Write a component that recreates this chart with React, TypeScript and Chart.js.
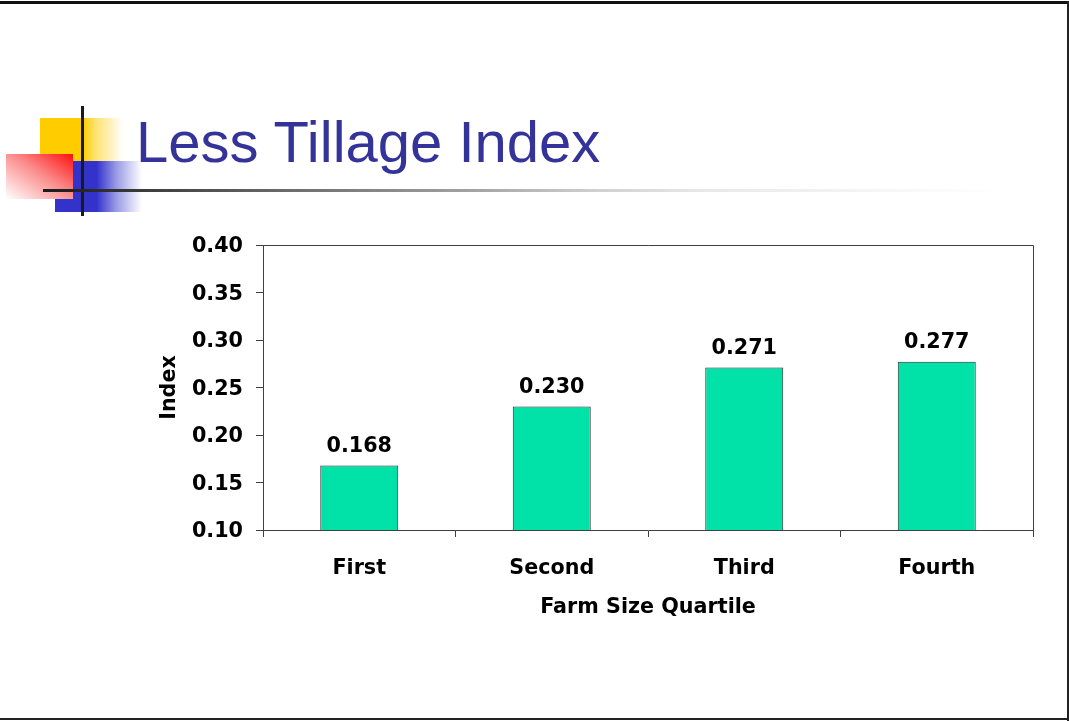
import React, { useEffect, useRef } from "react";
import { Chart, registerables } from "chart.js";

Chart.register(...registerables);

const categories = ["First", "Second", "Third", "Fourth"];
const indexValues = [0.168, 0.23, 0.271, 0.277];
const yMin = 0.1;
const yMax = 0.4;
const yStep = 0.05;
const slideTitle = "Less Tillage Index";
const xAxisTitle = "Farm Size Quartile";
const yAxisTitle = "Index";

const FONT_FAMILY = "'DejaVu Sans', 'Liberation Sans', sans-serif";
const AXIS_COLOR = "#404040";
const BAR_COLOR = "#00e2a8";

const labelFont = { family: FONT_FAMILY, size: 20.7, weight: "bold" as const };

const plotFramePlugin = {
  id: "plotFrame",
  afterDatasetsDraw(chart: any) {
    const { ctx, chartArea } = chart;
    const x = Math.round(chartArea.right) + 0.5;
    const y = Math.round(chartArea.top) + 0.5;
    ctx.save();
    ctx.strokeStyle = AXIS_COLOR;
    ctx.lineWidth = 1;
    ctx.beginPath();
    ctx.moveTo(Math.round(chartArea.left), y);
    ctx.lineTo(x, y);
    ctx.lineTo(x, Math.round(chartArea.bottom));
    ctx.stroke();
    ctx.restore();
  },
};

const valueLabelPlugin = {
  id: "valueLabels",
  afterDatasetsDraw(chart: any) {
    const { ctx } = chart;
    const meta = chart.getDatasetMeta(0);
    const data = chart.data.datasets[0].data as number[];
    ctx.save();
    ctx.font = `bold ${labelFont.size}px ${FONT_FAMILY}`;
    ctx.fillStyle = "#000";
    ctx.textAlign = "center";
    ctx.textBaseline = "middle";
    meta.data.forEach((bar: any, i: number) => {
      ctx.fillText(Number(data[i]).toFixed(3), bar.x, bar.y - 19);
    });
    ctx.restore();
  },
};

export default function App() {
  const canvasRef = useRef<HTMLCanvasElement | null>(null);

  useEffect(() => {
    if (!canvasRef.current) return;
    const chart = new Chart(canvasRef.current, {
      type: "bar",
      data: {
        labels: categories,
        datasets: [
          {
            label: yAxisTitle,
            data: indexValues,
            backgroundColor: BAR_COLOR,
            borderColor: "#2a2a2a",
            borderWidth: 1,
            borderSkipped: false,
            barPercentage: 0.405,
            categoryPercentage: 1,
          },
        ],
      },
      options: {
        responsive: false,
        animation: false,
        devicePixelRatio: 1,
        layout: { padding: { top: 245, right: 36, left: 157, bottom: 101 } },
        plugins: {
          legend: { display: false },
          tooltip: { enabled: false },
          title: { display: false },
        },
        scales: {
          x: {
            type: "category",
            offset: true,
            grid: {
              offset: true,
              drawOnChartArea: false,
              drawTicks: true,
              tickLength: 7,
              color: AXIS_COLOR,
              lineWidth: 1,
            },
            border: { display: true, color: AXIS_COLOR, width: 1 },
            ticks: { font: labelFont, color: "#000", padding: 19, maxRotation: 0, autoSkip: false },
            title: { display: true, text: xAxisTitle, font: labelFont, color: "#000", padding: 0 },
            afterFit: (s: any) => {
              s.height = 90;
            },
          },
          y: {
            type: "linear",
            min: yMin,
            max: yMax,
            grid: {
              drawOnChartArea: false,
              drawTicks: true,
              tickLength: 7,
              color: AXIS_COLOR,
              lineWidth: 1,
            },
            border: { display: true, color: AXIS_COLOR, width: 1 },
            ticks: {
              stepSize: yStep,
              font: labelFont,
              color: "#000",
              padding: 13,
              labelOffset: 2,
              callback: (v: any) => Number(v).toFixed(2),
            },
            title: { display: true, text: yAxisTitle, font: labelFont, color: "#000", padding: 0 },
            afterFit: (s: any) => {
              s.width = 106;
            },
          },
        },
      },
      plugins: [plotFramePlugin, valueLabelPlugin],
    });
    return () => chart.destroy();
  }, []);

  const abs = (style: React.CSSProperties): React.CSSProperties => ({ position: "absolute", ...style });

  return (
    <div style={abs({ left: 0, top: 0, width: 1069, height: 721, background: "#fff", overflow: "hidden" })}>
      {/* slide frame */}
      <div style={abs({ left: 0, top: 1, width: 1069, height: 3, background: "#111" })} />
      <div style={abs({ left: 1067, top: 1, width: 2, height: 720, background: "#222" })} />
      <div style={abs({ left: 0, top: 718, width: 1069, height: 2, background: "#222" })} />

      {/* title decoration */}
      <div
        style={abs({
          left: 40,
          top: 118,
          width: 83,
          height: 43,
          background: "linear-gradient(to right, #ffcc00 0%, #ffcc00 52%, rgba(255,204,0,0.6) 65%, rgba(255,204,0,0) 100%)",
        })}
      />
      <div
        style={abs({
          left: 55,
          top: 161,
          width: 87,
          height: 51,
          background: "linear-gradient(to right, #3333cc 0%, #3333cc 48%, rgba(51,51,204,0.5) 70%, rgba(51,51,204,0) 100%)",
        })}
      />
      <div
        style={abs({
          left: 6,
          top: 154,
          width: 67,
          height: 45,
          background: "linear-gradient(to bottom left, #ff1010 0%, #fb8a8a 45%, #ffffff 100%)",
        })}
      />
      <div style={abs({ left: 81, top: 106, width: 3, height: 110, background: "#1a1a1a" })} />
      <div
        style={abs({
          left: 43,
          top: 189,
          width: 957,
          height: 3,
          background:
            "linear-gradient(to right, #1a1a1a 0%, #707070 27%, #a0a0a0 44%, #d0d0d0 58%, #e8e8e8 69%, #ffffff 100%)",
        })}
      />
      <div
        style={abs({
          left: 136,
          top: 113,
          fontFamily: "'Liberation Sans', Arial, sans-serif",
          fontSize: 58,
          lineHeight: "58px",
          color: "#333399",
          whiteSpace: "nowrap",
        })}
      >
        {slideTitle}
      </div>

      <canvas
        ref={canvasRef}
        width={1069}
        height={721}
        style={abs({ left: 0, top: 0, width: 1069, height: 721 })}
      />
    </div>
  );
}
